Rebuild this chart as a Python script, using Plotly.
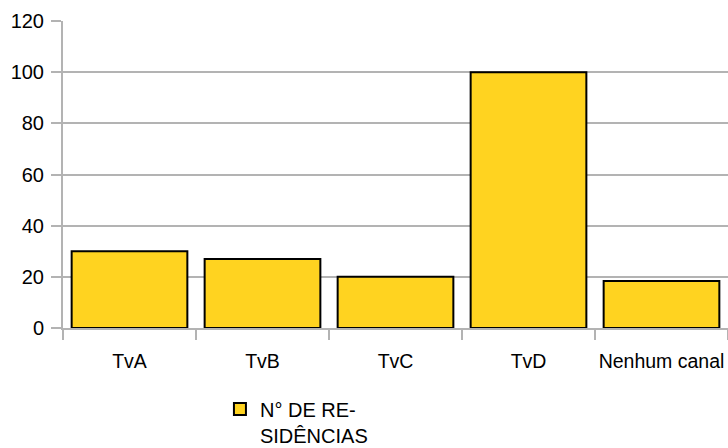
import plotly.graph_objects as go

categories = ["TvA", "TvB", "TvC", "TvD", "Nenhum canal"]
residencias = [30, 27, 20, 100, 18.4]
series_name = "N° DE RE-<br>SIDÊNCIAS"
y_ticks = [0, 20, 40, 60, 80, 100, 120]

fig = go.Figure()
fig.add_trace(go.Bar(
    x=categories, y=residencias, name=series_name,
    marker=dict(color="#FFD320", line=dict(color="#000000", width=2)),
    showlegend=True,
))

fig.update_layout(
    width=728, height=448,
    margin=dict(l=63, r=0, t=21, b=120, autoexpand=False),
    paper_bgcolor="white", plot_bgcolor="white",
    font=dict(family="Liberation Sans, Arial, sans-serif", size=20, color="#000000"),
    bargap=0.13,
    showlegend=True,
    legend=dict(x=0.236, y=-0.2, xanchor="left", yanchor="top",
                font=dict(size=20), bgcolor="rgba(0,0,0,0)",
                valign="top", itemwidth=30, tracegroupgap=0),
)
fig.update_xaxes(
    type="category", showline=True, linecolor="#b3b3b3", linewidth=2,
    ticks="outside", tickson="boundaries", ticklen=10, tickcolor="#b3b3b3", tickwidth=2,
    showgrid=False, tickfont=dict(size=19.5), ticklabelstandoff=15, tickangle=0,
)
fig.update_yaxes(
    range=[0, 120], tickvals=y_ticks, showline=True, linecolor="#b3b3b3", linewidth=2,
    ticks="outside", ticklen=10, tickcolor="#b3b3b3", tickwidth=2,
    showgrid=True, gridcolor="#b3b3b3", gridwidth=2, zeroline=False,
    tickfont=dict(size=20), ticklabelstandoff=3,
)

fig.write_html(
    "out.html",
    config={"displayModeBar": False},
    post_script="document.body.style.margin='0';document.body.style.overflow='hidden';",
)
